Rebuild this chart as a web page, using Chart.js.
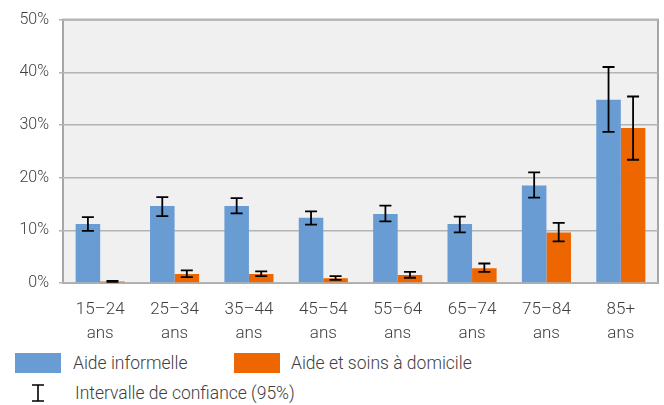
<!DOCTYPE html>
<html>
<head>
<meta charset="utf-8">
<script src="https://cdn.jsdelivr.net/npm/chart.js@4"></script>
<style>
  body { margin: 0; background: #fff; font-family: Roboto, sans-serif; font-weight: 300; color: #404040; }
  #wrap { position: relative; width: 664px; height: 405px; }
  #chart { position: absolute; left: 0; top: 0; }
  .legend-item { position: absolute; font-size: 17.5px; line-height: 20px; white-space: nowrap; }
  .swatch { position: absolute; width: 46px; height: 20px; }
</style>
</head>
<body>
<div id="wrap">
  <canvas id="chart" width="664" height="340"></canvas>
  <div class="swatch" style="left:15px;top:353px;background:#6a9cd4"></div>
  <div class="legend-item" style="left:73px;top:353px">Aide informelle</div>
  <div class="swatch" style="left:234px;top:353px;background:#ee6600"></div>
  <div class="legend-item" style="left:291px;top:353px">Aide et soins à domicile</div>
  <svg style="position:absolute;left:30px;top:384px" width="16" height="18">
    <path d="M2 1H14M8 1V17M2 17H14" stroke="#000" stroke-width="1.6" fill="none"/>
  </svg>
  <div class="legend-item" style="left:75px;top:383px">Intervalle de confiance (95%)</div>
</div>
<script>
const categories = [['15–24', 'ans'], ['25–34', 'ans'], ['35–44', 'ans'], ['45–54', 'ans'], ['55–64', 'ans'], ['65–74', 'ans'], ['75–84', 'ans'], ['85+', 'ans']];

const aideInformelle = [11.2, 14.6, 14.6, 12.4, 13.1, 11.2, 18.5, 34.8];
const aideInformelleLow = [9.9, 12.7, 13.2, 11.1, 11.7, 9.6, 16.2, 28.7];
const aideInformelleHigh = [12.5, 16.3, 16.1, 13.6, 14.7, 12.6, 21.0, 41.0];

const aideDomicile = [0.3, 1.7, 1.7, 0.9, 1.5, 2.8, 9.6, 29.4];
const aideDomicileLow = [0.2, 1.1, 1.3, 0.6, 1.0, 2.1, 7.9, 23.4];
const aideDomicileHigh = [0.4, 2.4, 2.2, 1.3, 2.1, 3.7, 11.4, 35.4];

const yTicks = [0, 10, 20, 30, 40, 50];

const plotBackground = {
    id: 'plotBackground',
    beforeDraw(chart) {
        const { ctx, chartArea: a } = chart;
        ctx.save();
        ctx.fillStyle = '#f0f0f0';
        ctx.fillRect(a.left, a.top, a.right - a.left, a.bottom - a.top);
        ctx.strokeStyle = '#a6a6a6';
        ctx.lineWidth = 2;
        ctx.strokeRect(a.left, a.top, a.right - a.left, a.bottom - a.top);
        ctx.restore();
    }
};

const errorBars = {
    id: 'errorBars',
    afterDatasetsDraw(chart) {
        const ctx = chart.ctx;
        const y = chart.scales.y;
        ctx.save();
        ctx.strokeStyle = '#000';
        ctx.lineWidth = 1.8;
        chart.data.datasets.forEach((ds, i) => {
            const meta = chart.getDatasetMeta(i);
            meta.data.forEach((bar, j) => {
                const top = y.getPixelForValue(ds.high[j]);
                const bottom = y.getPixelForValue(ds.low[j]);
                ctx.beginPath();
                ctx.moveTo(bar.x, top);
                ctx.lineTo(bar.x, bottom);
                ctx.moveTo(bar.x - 6, top);
                ctx.lineTo(bar.x + 6, top);
                ctx.moveTo(bar.x - 6, bottom);
                ctx.lineTo(bar.x + 6, bottom);
                ctx.stroke();
            });
        });
        ctx.restore();
    }
};

new Chart(document.querySelector('#chart'), {
    type: 'bar',
    data: {
        labels: categories,
        datasets: [
            {
                label: 'Aide informelle',
                data: aideInformelle,
                low: aideInformelleLow,
                high: aideInformelleHigh,
                backgroundColor: '#6a9cd4',
            },
            {
                label: 'Aide et soins à domicile',
                data: aideDomicile,
                low: aideDomicileLow,
                high: aideDomicileHigh,
                backgroundColor: '#ee6600',
            }
        ]
    },
    options: {
        responsive: false,
        animation: false,
        datasets: { bar: { categoryPercentage: 0.66, barPercentage: 1 } },
        layout: { padding: { top: 16, right: 6, left: 0, bottom: 0 } },
        plugins: {
            legend: { display: false },
            tooltip: { enabled: false }
        },
        scales: {
            x: {
                grid: { display: false },
                border: { display: false },
                ticks: {
                    color: '#404040',
                    font: { family: 'Roboto', size: 17, weight: 300, lineHeight: 1.4 },
                    maxRotation: 0,
                    padding: 7
                },
                afterFit: s => { s.height = 57; }
            },
            y: {
                min: 0,
                max: 50,
                afterBuildTicks: s => { s.ticks = yTicks.map(v => ({ value: v })); },
                grid: { color: '#b4b4b4', lineWidth: 1.5, tickLength: 4 },
                border: { display: false },
                ticks: {
                    color: '#404040',
                    font: { family: 'Roboto', size: 16, weight: 300 },
                    padding: 10,
                    callback: v => v + '%'
                },
                afterFit: s => { s.width = 63; }
            }
        }
    },
    plugins: [plotBackground, errorBars]
});
</script>
</body>
</html>
